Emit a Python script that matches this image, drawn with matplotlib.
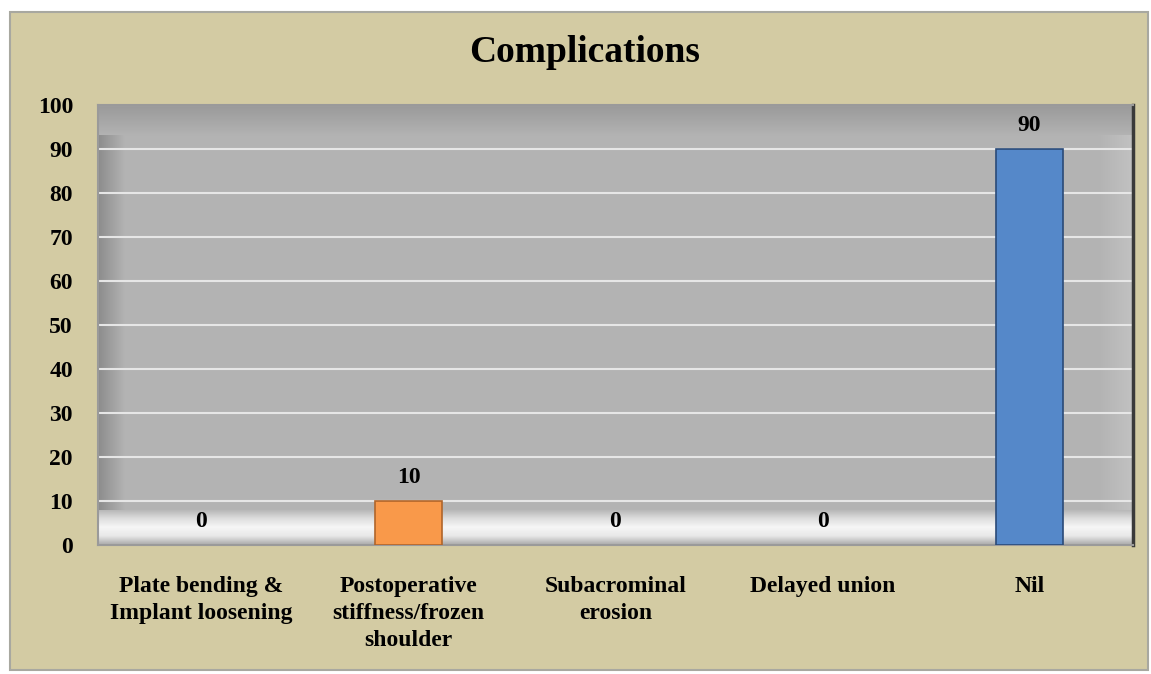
import numpy as np
import matplotlib.pyplot as plt
from matplotlib.patches import Rectangle
from matplotlib.colors import LinearSegmentedColormap

# data
categories = ['Plate bending &\nImplant loosening',
              'Postoperative\nstiffness/frozen\nshoulder',
              'Subacrominal\nerosion',
              'Delayed union',
              'Nil']
values = [0, 10, 0, 0, 90]
bar_colors = ['#F9994A', '#F9994A', '#F9994A', '#F9994A', '#5588C9']
edge_colors = ['#B0652A', '#B0652A', '#B0652A', '#B0652A', '#2A4A78']
yticks = list(range(0, 101, 10))

plt.rcParams['font.family'] = ['Liberation Serif', 'DejaVu Serif']
plt.rcParams['font.weight'] = 'bold'

fig = plt.figure(figsize=(11.51, 6.74), dpi=100)
fig.patch.set_facecolor('white')

# tan chart frame
frame = Rectangle((10 / 1151, 4 / 674), 1138 / 1151, 658 / 674,
                  transform=fig.transFigure, facecolor='#D3CBA3',
                  edgecolor='#A8A8A0', linewidth=1.5, zorder=-1)
fig.patches.append(frame)

ax = fig.add_axes([98 / 1151, 129 / 674, 1035 / 1151, 440 / 674])
ax.set_zorder(2)
ax.set_facecolor('#B3B3B3')

# wall shading (drawn under the gridlines)
floor_cmap = LinearSegmentedColormap.from_list(
    'floor', ['#B3B3B3', '#DCDCDC', '#F6F6F6', '#E8E8E8', '#A8A8A8'])
ax.imshow(np.linspace(0, 1, 200).reshape(-1, 1), extent=(-0.5, 4.5, 0, 8),
          aspect='auto', cmap=floor_cmap, zorder=0.3, origin='upper')
top_cmap = LinearSegmentedColormap.from_list('top', ['#9A9A9A', '#B3B3B3'])
ax.imshow(np.linspace(0, 1, 50).reshape(-1, 1), extent=(-0.5, 4.5, 93, 100),
          aspect='auto', cmap=top_cmap, zorder=0.3, origin='upper')
left_cmap = LinearSegmentedColormap.from_list('left', ['#8C8C8C', '#B3B3B3'])
ax.imshow(np.linspace(0, 1, 50).reshape(1, -1), extent=(-0.5, -0.37, 8, 93),
          aspect='auto', cmap=left_cmap, zorder=0.35, origin='upper')
right_cmap = LinearSegmentedColormap.from_list('right', ['#B3B3B3', '#C2C2C2'])
ax.imshow(np.linspace(0, 1, 50).reshape(1, -1), extent=(4.33, 4.5, 8, 93),
          aspect='auto', cmap=right_cmap, zorder=0.35, origin='upper')

x = np.arange(len(categories))
lw = [1.2 if v > 0 else 0 for v in values]
ax.bar(x, values, width=0.32, color=bar_colors, edgecolor=edge_colors,
       linewidth=lw, zorder=3)

for xi, v in zip(x, values):
    ax.annotate(str(v), (xi, v), xytext=(0, 17), textcoords='offset points',
                ha='center', va='center', fontsize=17, fontweight='bold')

ax.set_xlim(-0.5, 4.5)
ax.set_ylim(0, 100)
ax.set_yticks(yticks)
ax.set_yticklabels([str(t) for t in yticks], fontsize=17, fontweight='bold')
ax.set_xticks(x)
ax.set_xticklabels(categories, fontsize=17, fontweight='bold',
                   linespacing=1.4)
ax.tick_params(axis='both', length=0)
ax.tick_params(axis='x', pad=22)
ax.tick_params(axis='y', pad=18)

ax.grid(axis='y', color='#E6E6E6', linewidth=1.5)
ax.set_axisbelow(True)

for s in ['left', 'top', 'bottom']:
    ax.spines[s].set_color('#9A9A9A')
    ax.spines[s].set_linewidth(1.5)
ax.spines['right'].set_color('#3A3A3A')
ax.spines['right'].set_linewidth(2.5)

fig.text(585 / 1151, 1 - 53 / 674, 'Complications', ha='center', va='center',
         fontsize=27, fontweight='bold')

fig.savefig('out.png', dpi=100, facecolor=fig.get_facecolor())
